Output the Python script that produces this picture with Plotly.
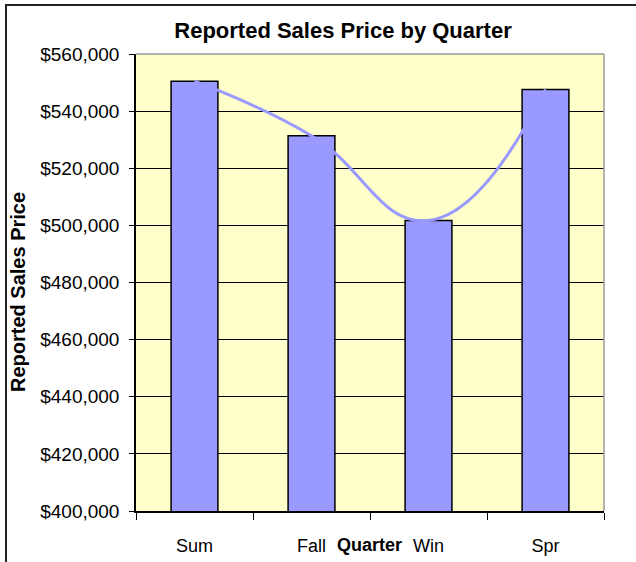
import plotly.graph_objects as go

quarters = ["Sum", "Fall", "Win", "Spr"]
prices = [550500, 531400, 501700, 547600]
y_ticks = [400000, 420000, 440000, 460000, 480000, 500000, 520000, 540000, 560000]

W, H = 636, 562
L, R, T, B = 136, 32, 54, 51
pw, ph = W - L - R, H - T - B

fig = go.Figure()

fig.add_trace(go.Bar(
    x=quarters, y=prices,
    marker=dict(color="#9999FF", line=dict(color="black", width=1.5)),
    hoverinfo="x+y",
))

# smoothed line through the bar tops
fig.add_trace(go.Scatter(
    x=quarters, y=prices,
    mode="lines",
    line=dict(color="#9999FF", width=3, shape="spline", smoothing=1.3),
))

font = "Liberation Sans, Arial, sans-serif"

fig.update_layout(
    width=W, height=H,
    margin=dict(l=L, r=R, t=T, b=B, autoexpand=False),
    paper_bgcolor="white",
    plot_bgcolor="#FFFFCC",
    showlegend=False,
    bargap=0.6,
    font=dict(family=font, color="black"),
    title=dict(
        text="<b>Reported Sales Price by Quarter</b>",
        font=dict(size=22, family=font),
        x=343 / W, xanchor="center",
        y=1 - 30 / H, yanchor="middle",
    ),
    xaxis=dict(
        type="category",
        automargin=False,
        tickson="boundaries",
        ticks="outside", ticklen=7, tickcolor="black", tickwidth=1,
        showline=True, linecolor="black", linewidth=1.5,
        showgrid=False,
        tickfont=dict(size=18),
        ticklabelstandoff=18,
    ),
    yaxis=dict(
        automargin=False,
        range=[400000, 560000],
        tickvals=y_ticks,
        tickformat="$,.0f",
        ticks="outside", ticklen=5, tickcolor="black", tickwidth=1,
        showline=True, linecolor="black", linewidth=1.5,
        showgrid=True, gridcolor="black", gridwidth=1,
        zeroline=False,
        tickfont=dict(size=19),
        ticklabelstandoff=6,
    ),
)

# y-axis title and the x-axis title placed in line with the tick labels
fig.add_annotation(
    text="<b>Reported Sales Price</b>",
    textangle=-90,
    xref="paper", yref="paper",
    x=(18 - L) / pw, y=(H - B - 292) / ph,
    xanchor="center", yanchor="middle",
    showarrow=False,
    font=dict(size=20, family=font),
)
fig.add_annotation(
    text="<b>Quarter</b>",
    xref="paper", yref="paper",
    x=(369 - L) / pw, y=-(545 - (H - B)) / ph,
    xanchor="center", yanchor="middle",
    showarrow=False,
    font=dict(size=18, family=font),
)

# gray top and right edges of the plot area
fig.add_shape(type="line", xref="paper", yref="paper", x0=0, x1=1, y0=1, y1=1,
              line=dict(color="#999999", width=1.5), layer="above")
fig.add_shape(type="line", xref="paper", yref="paper", x0=1, x1=1, y0=0, y1=1,
              line=dict(color="#999999", width=1.5), layer="above")

# chart frame (partly cut off on the right and bottom)
fig.add_shape(type="rect", xref="paper", yref="paper",
              x0=(6 - L) / pw, x1=1.3, y0=-0.3, y1=1 + (T - 5) / ph,
              line=dict(color="#222222", width=2), layer="above")

fig.write_html(
    "out.html",
    config={"displayModeBar": False},
    post_script="document.body.style.margin='0';document.body.style.overflow='hidden';",
)
